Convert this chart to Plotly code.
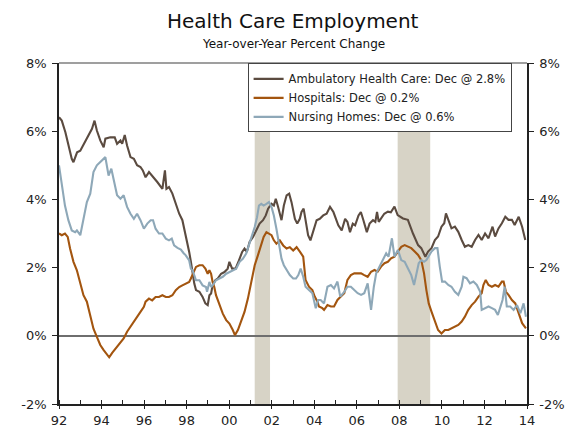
import plotly.graph_objects as go

# ---------------- data (decimal years, % y/y) ----------------
amb_x = [1992.0, 1992.13, 1992.3, 1992.45, 1992.6, 1992.68, 1992.85, 1993.0, 1993.23, 1993.4,
         1993.55, 1993.67, 1993.78, 1993.94, 1994.1, 1994.18, 1994.41, 1994.62, 1994.73, 1994.89,
         1994.97, 1995.09, 1995.2, 1995.36, 1995.52, 1995.67, 1995.83, 1995.94, 1996.07, 1996.23,
         1996.38, 1996.62, 1996.86, 1996.98, 1997.05, 1997.17, 1997.33, 1997.49, 1997.65, 1997.8,
         1997.93, 1998.04, 1998.12, 1998.2, 1998.28, 1998.36, 1998.44, 1998.6, 1998.75, 1998.88,
         1998.99, 1999.07, 1999.15, 1999.22, 1999.35, 1999.46, 1999.62, 1999.78, 1999.93, 2000.01,
         2000.14, 2000.3, 2000.46, 2000.61, 2000.72, 2000.83, 2000.96, 2001.12, 2001.27, 2001.43,
         2001.59, 2001.72, 2001.83, 2001.99, 2002.1, 2002.19, 2002.3, 2002.46, 2002.57, 2002.7,
         2002.82, 2002.93, 2003.09, 2003.2, 2003.32, 2003.4, 2003.5, 2003.6, 2003.71, 2003.82,
         2003.95, 2004.11, 2004.26, 2004.42, 2004.58, 2004.74, 2004.9, 2005.02, 2005.13, 2005.29,
         2005.45, 2005.56, 2005.68, 2005.81, 2005.92, 2006.08, 2006.19, 2006.31, 2006.47, 2006.6,
         2006.76, 2006.87, 2006.95, 2007.03, 2007.18, 2007.29, 2007.46, 2007.6, 2007.77, 2007.92,
         2008.17, 2008.4, 2008.64, 2008.88, 2009.03, 2009.22, 2009.35, 2009.51, 2009.67, 2009.82,
         2009.98, 2010.11, 2010.19, 2010.3, 2010.45, 2010.61, 2010.77, 2010.93, 2011.08, 2011.24,
         2011.4, 2011.56, 2011.72, 2011.87, 2012.03, 2012.19, 2012.38, 2012.5, 2012.66, 2012.82,
         2012.98, 2013.13, 2013.29, 2013.42, 2013.61, 2013.77, 2013.92]
amb_y = [6.41, 6.31, 5.97, 5.58, 5.19, 5.09, 5.38, 5.43, 5.68, 5.87,
         6.07, 6.31, 6.02, 5.73, 5.53, 5.78, 5.82, 5.82, 5.63, 5.73,
         5.63, 5.89, 5.58, 5.24, 5.19, 5.0, 4.95, 4.85, 4.65, 4.8,
         4.7, 4.51, 4.31, 4.85, 4.31, 4.36, 4.17, 3.85, 3.58, 3.39,
         3.04, 2.75, 2.46, 2.17, 1.78, 1.53, 1.34, 1.29, 1.14, 0.95,
         0.9, 1.19, 1.24, 1.48, 1.63, 1.68, 1.82, 1.87, 1.97, 2.17,
         1.97, 1.97, 2.21, 2.46, 2.56, 2.46, 2.75, 2.9, 3.09, 3.29,
         3.39, 3.53, 3.73, 3.87, 3.82, 4.02, 3.78, 3.39, 3.82, 4.12,
         4.17, 3.92, 3.43, 3.29, 3.43, 3.63, 3.73, 3.34, 2.95, 2.8,
         3.09, 3.39, 3.43, 3.53, 3.58, 3.78, 3.63, 3.39, 3.24, 3.09,
         3.43, 3.34, 3.04, 3.29, 3.24, 3.53, 3.63, 3.39, 3.04, 3.29,
         3.39, 3.34, 3.63, 3.34, 3.48, 3.58, 3.64, 3.62, 3.79, 3.54,
         3.44, 3.40, 3.0, 2.66, 2.57, 2.32, 2.47, 2.57, 2.81, 2.91,
         3.2, 3.30, 3.59, 3.4, 3.15, 3.20, 3.05, 2.81, 2.61, 2.66,
         2.61, 2.81, 2.96, 2.81, 3.0, 2.86, 3.2, 2.91, 3.15, 3.30,
         3.49, 3.4, 3.4, 3.25, 3.49, 3.2, 2.81]

hosp_x = [1992.0, 1992.13, 1992.28, 1992.41, 1992.52, 1992.68, 1992.84, 1993.0, 1993.15, 1993.31,
          1993.47, 1993.62, 1993.78, 1993.94, 1994.1, 1994.26, 1994.36, 1994.5, 1994.6, 1994.73,
          1994.89, 1995.04, 1995.2, 1995.36, 1995.52, 1995.67, 1995.83, 1995.99, 1996.07, 1996.23,
          1996.38, 1996.54, 1996.7, 1996.86, 1997.02, 1997.17, 1997.33, 1997.49, 1997.65, 1997.8,
          1997.96, 1998.12, 1998.2, 1998.28, 1998.36, 1998.44, 1998.6, 1998.75, 1998.88, 1998.99,
          1999.07, 1999.15, 1999.22, 1999.3, 1999.38, 1999.54, 1999.7, 1999.86, 2000.01, 2000.17,
          2000.27, 2000.41, 2000.57, 2000.72, 2000.88, 2001.04, 2001.2, 2001.35, 2001.51, 2001.62,
          2001.75, 2001.87, 2001.99, 2002.1, 2002.22, 2002.38, 2002.54, 2002.7, 2002.85, 2003.01,
          2003.17, 2003.33, 2003.48, 2003.59, 2003.75, 2003.91, 2004.02, 2004.15, 2004.22, 2004.38,
          2004.46, 2004.62, 2004.78, 2004.93, 2005.09, 2005.25, 2005.41, 2005.56, 2005.72, 2005.88,
          2006.04, 2006.2, 2006.35, 2006.51, 2006.67, 2006.83, 2006.98, 2007.14, 2007.3, 2007.46,
          2007.61, 2007.77, 2007.93, 2008.09, 2008.25, 2008.4, 2008.56, 2008.72, 2008.88, 2009.03,
          2009.16, 2009.27, 2009.38, 2009.51, 2009.67, 2009.82, 2009.98, 2010.14, 2010.3, 2010.45,
          2010.61, 2010.77, 2010.93, 2011.08, 2011.24, 2011.4, 2011.56, 2011.72, 2011.87, 2011.95,
          2012.06, 2012.19, 2012.35, 2012.5, 2012.66, 2012.82, 2012.9, 2013.01, 2013.13, 2013.29,
          2013.45, 2013.61, 2013.77, 2013.95]
hosp_y = [3.0, 2.95, 3.0, 2.9, 2.56, 2.17, 1.92, 1.58, 1.19, 1.0,
          0.6, 0.21, -0.03, -0.27, -0.42, -0.55, -0.63, -0.5, -0.42, -0.32,
          -0.18, -0.08, 0.12, 0.26, 0.41, 0.56, 0.7, 0.85, 1.0, 1.09,
          1.04, 1.14, 1.14, 1.19, 1.14, 1.14, 1.19, 1.34, 1.43, 1.48,
          1.53, 1.58, 1.68, 1.78, 1.92, 2.02, 2.07, 2.07, 1.97, 1.82,
          1.92, 1.82, 1.58, 1.43, 1.19, 0.9, 0.65, 0.46, 0.36, 0.17,
          0.02, 0.17, 0.46, 0.7, 1.09, 1.58, 2.07, 2.36, 2.7, 2.9,
          3.04, 3.0, 2.95, 2.8, 2.7, 2.8, 2.65, 2.56, 2.6, 2.5,
          2.6, 2.46, 2.32, 1.64, 1.44, 1.34, 1.15, 1.0, 0.86, 0.81,
          0.76, 0.9, 0.86, 0.86, 1.05, 1.15, 1.25, 1.64, 1.78, 1.83,
          1.83, 1.83, 1.78, 1.73, 1.88, 1.93, 1.88, 2.03, 2.13, 2.17,
          2.27, 2.32, 2.47, 2.61, 2.66, 2.61, 2.57, 2.47, 2.37, 2.22,
          1.83, 1.34, 0.95, 0.71, 0.42, 0.17, 0.07, 0.17, 0.17, 0.22,
          0.27, 0.32, 0.42, 0.56, 0.76, 0.9, 1.0, 1.15, 1.25, 1.49,
          1.64, 1.49, 1.44, 1.49, 1.44, 1.59, 1.59, 1.29, 1.2, 1.05,
          0.95, 0.66, 0.37, 0.22]

nurs_x = [1992.0, 1992.13, 1992.28, 1992.44, 1992.6, 1992.76, 1992.84, 1993.0, 1993.15, 1993.31,
          1993.47, 1993.62, 1993.78, 1993.94, 1994.1, 1994.18, 1994.26, 1994.33, 1994.46, 1994.57,
          1994.73, 1994.89, 1995.04, 1995.2, 1995.36, 1995.52, 1995.67, 1995.83, 1995.99, 1996.15,
          1996.31, 1996.42, 1996.54, 1996.7, 1996.86, 1997.02, 1997.17, 1997.3, 1997.41, 1997.57,
          1997.73, 1997.85, 1997.96, 1998.12, 1998.2, 1998.28, 1998.36, 1998.44, 1998.6, 1998.75,
          1998.91, 1998.96, 1999.07, 1999.15, 1999.22, 1999.38, 1999.54, 1999.7, 1999.86, 2000.01,
          2000.17, 2000.33, 2000.49, 2000.64, 2000.8, 2000.96, 2001.09, 2001.2, 2001.31, 2001.4,
          2001.51, 2001.62, 2001.75, 2001.87, 2001.99, 2002.1, 2002.22, 2002.35, 2002.46, 2002.57,
          2002.7, 2002.85, 2003.01, 2003.14, 2003.25, 2003.36, 2003.48, 2003.59, 2003.75, 2003.91,
          2004.07, 2004.18, 2004.3, 2004.46, 2004.62, 2004.78, 2004.93, 2005.09, 2005.22, 2005.41,
          2005.56, 2005.72, 2005.88, 2006.04, 2006.2, 2006.35, 2006.51, 2006.67, 2006.8, 2006.91,
          2007.07, 2007.22, 2007.38, 2007.49, 2007.65, 2007.77, 2007.93, 2008.09, 2008.25, 2008.4,
          2008.56, 2008.69, 2008.8, 2008.91, 2009.03, 2009.16, 2009.27, 2009.38, 2009.51, 2009.67,
          2009.79, 2009.9, 2010.01, 2010.14, 2010.3, 2010.45, 2010.61, 2010.77, 2010.93, 2011.01,
          2011.16, 2011.32, 2011.48, 2011.64, 2011.8, 2011.87, 2012.03, 2012.19, 2012.35, 2012.5,
          2012.63, 2012.74, 2012.85, 2012.95, 2013.05, 2013.21, 2013.37, 2013.53, 2013.69, 2013.84,
          2013.95]
nurs_y = [5.0, 4.41, 3.82, 3.39, 3.09, 3.04, 3.09, 2.95, 3.43, 3.92,
          4.17, 4.8, 5.0, 5.09, 5.19, 5.24, 4.95, 4.70, 4.9, 4.6,
          4.12, 4.02, 4.12, 3.78, 3.58, 3.43, 3.58, 3.39, 3.14, 3.29,
          3.39, 3.39, 3.14, 3.0, 3.0, 2.85, 2.8, 2.85, 2.65, 2.58,
          2.53, 2.43, 2.36, 2.21, 1.97, 1.92, 1.78, 1.63, 1.63, 1.48,
          1.43, 1.29, 1.58, 1.43, 1.48, 1.63, 1.68, 1.73, 1.82, 1.87,
          1.92, 1.97, 2.17, 2.26, 2.41, 2.7, 2.95, 3.19, 3.48, 3.82,
          3.87, 3.82, 3.87, 3.92, 3.78, 3.53, 3.14, 2.65, 2.26, 2.07,
          1.92, 1.78, 1.68, 1.68, 1.78, 1.97, 1.73, 1.44, 1.34, 1.25,
          0.81, 1.05, 1.05, 0.95, 1.44, 1.49, 1.39, 1.59, 1.15, 1.29,
          1.44, 1.44, 1.34, 1.25, 1.2, 1.25, 1.54, 0.76, 1.44, 1.83,
          2.03, 2.22, 2.42, 2.32, 2.86, 2.32, 2.52, 2.22, 2.17, 1.98,
          1.78, 1.49, 1.83, 2.13, 2.22, 2.17, 2.22, 2.32, 2.47, 2.57,
          2.57, 2.03, 1.59, 1.59, 1.49, 1.44, 1.29, 1.2, 1.44, 1.73,
          1.69, 1.54, 1.59, 1.49, 1.29, 0.76, 0.81, 0.86, 0.81, 0.76,
          0.61, 0.81, 1.05, 1.44, 0.86, 0.86, 0.76, 0.9, 0.66, 0.95,
          0.56]

recessions = [(2001.2, 2001.92), (2007.92, 2009.45)]

tick_vals = list(range(1992, 2015, 2))
tick_text = ["%02d" % (y % 100) for y in tick_vals]
y_tick_vals = [-2, 0, 2, 4, 6, 8]
y_tick_text = ["-2%", "0%", "2%", "4%", "6%", "8%"]

title_text = "Health Care Employment"
subtitle_text = "Year-over-Year Percent Change"

series = [
    ("Ambulatory Health Care", amb_x, amb_y, "#5B4B40"),
    ("Hospitals", hosp_x, hosp_y, "#A3550F"),
    ("Nursing Homes", nurs_x, nurs_y, "#8EA8B8"),
]

FONT = "DejaVu Sans, Verdana, sans-serif"
fig = go.Figure()
for name, xs, ys, col in series:
    fig.add_trace(go.Scatter(
        x=xs, y=ys, mode="lines",
        name="%s: Dec @ %.1f%%" % (name, ys[-1]),
        line=dict(color=col, width=2.1),
    ))
# invisible trace for the right-side axis
fig.add_trace(go.Scatter(x=[amb_x[0]], y=[amb_y[0]], yaxis="y2", mode="markers",
                         marker=dict(opacity=0), showlegend=False, hoverinfo="skip"))

shapes = []
for a, b in recessions:
    shapes.append(dict(type="rect", xref="x", yref="paper", x0=a, x1=b, y0=0, y1=1,
                       fillcolor="#D7D3C6", line=dict(width=0), layer="below"))
shapes.append(dict(type="line", xref="paper", yref="paper", x0=0, x1=1, y0=1, y1=1,
                   line=dict(color="#7F7F7F", width=1.5)))

annotations = [
    dict(text=title_text, xref="paper", yref="paper", x=0.5, y=1, xanchor="center", yanchor="middle",
         yshift=42, showarrow=False, font=dict(family=FONT, size=20, color="#111111")),
    dict(text=subtitle_text, xref="paper", yref="paper", x=0.5, y=1, xanchor="center", yanchor="middle",
         yshift=19, showarrow=False, font=dict(family=FONT, size=12, color="#111111")),
]

axis_common = dict(showgrid=False, automargin=False, showline=True,
                   linecolor="#222222", linewidth=1.5, tickcolor="#222222",
                   tickfont=dict(family=FONT, size=13, color="#222222"))

# the page body adds an 8px offset, so the figure is 8px smaller and margins are shifted
fig.update_layout(
    width=578, height=419,
    margin=dict(l=51, r=59, t=55, b=23),
    paper_bgcolor="white", plot_bgcolor="white",
    font=dict(family=FONT, size=12, color="#222222"),
    showlegend=True,
    legend=dict(x=0.403, y=0.999, xanchor="left", yanchor="top",
                bgcolor="white", bordercolor="#444444", borderwidth=1,
                font=dict(family=FONT, size=11.5, color="#222222"),
                tracegroupgap=0, itemwidth=30),
    shapes=shapes,
    annotations=annotations,
    xaxis=dict(range=[1992, 2014], tickvals=tick_vals, ticktext=tick_text, zeroline=False,
               ticks="outside", ticklen=3, ticklabelstandoff=1,
               minor=dict(ticks="inside", ticklen=4, dtick=1, tick0=1992, tickcolor="#222222"),
               **axis_common),
    yaxis=dict(range=[-2, 8], tickvals=y_tick_vals, ticktext=y_tick_text,
               zeroline=True, zerolinecolor="#6E6E6E", zerolinewidth=1.5,
               ticks="outside", ticklen=5, ticklabelstandoff=3, **axis_common),
    yaxis2=dict(range=[-2, 8], tickvals=y_tick_vals, ticktext=y_tick_text,
                overlaying="y", side="right", zeroline=False,
                ticks="outside", ticklen=5, ticklabelstandoff=3, **axis_common),
)

fig.write_html("out.html")
